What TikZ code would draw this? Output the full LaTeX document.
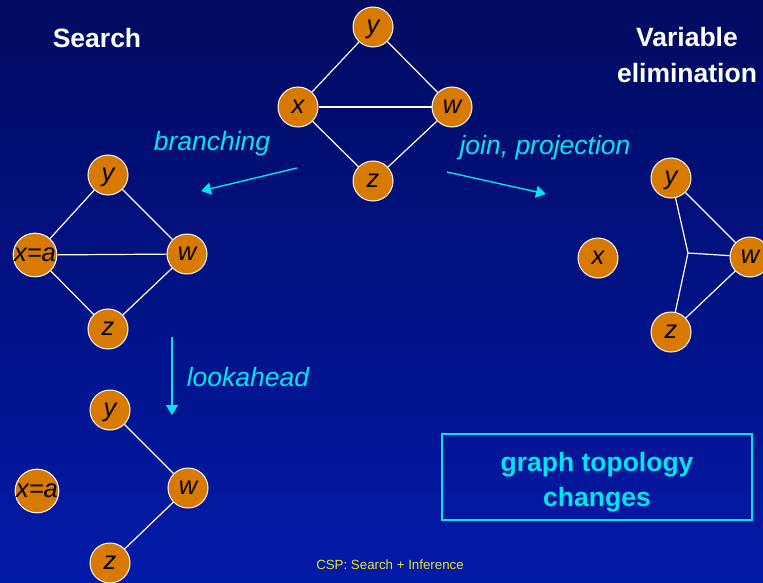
\documentclass[tikz,border=0pt]{standalone}
\usepackage{fontspec}
\setmainfont{Liberation Sans}
\usetikzlibrary{arrows.meta}
\definecolor{bgtop}{RGB}{0,10,96}
\definecolor{bgbot}{RGB}{2,26,168}
\definecolor{varfill}{RGB}{217,122,0}
\definecolor{accent}{RGB}{0,230,240}
\definecolor{footer}{RGB}{230,230,40}
\tikzset{
  var/.style={circle, fill=varfill, draw=white, line width=1pt, minimum size=40pt,
    inner sep=0pt, text height=13pt, text depth=0pt,
    font=\fontsize{25.5}{25.5}\selectfont\itshape, text=black},
  edge/.style={draw=white, line width=1.2pt},
  move/.style={draw=accent, line width=1.4pt, -{Triangle[length=10pt,width=12pt]}},
  steplabel/.style={text=accent, font=\fontsize{26.5}{26.5}\selectfont\itshape},
  heading/.style={text=white, font=\fontsize{26.5}{36}\selectfont\bfseries, align=center}
}
\begin{document}
\begin{tikzpicture}[x=1pt,y=-1pt]
  % background
  \shade[top color=bgtop, bottom color=bgbot] (0,0) rectangle (763,583);
  \useasboundingbox (0,0) rectangle (763,583);

  % headings
  \node[heading] (hsearch) at (97,38) {Search};
  \node[heading] (helim) at (687,55) {Variable\\elimination};

  % original constraint graph
  \node[var] (ty) at (373,27) {y};
  \node[var] (tx) at (298,107) {x};
  \node[var] (tw) at (452,107) {w};
  \node[var] (tz) at (373,181) {z};
  \draw[edge] (tx) -- (ty);
  \draw[edge] (ty) -- (tw);
  \draw[edge] (tx) -- (tw);
  \draw[edge] (tx) -- (tz);
  \draw[edge] (tz) -- (tw);

  % after branching on x
  \node[var] (by) at (108,175) {y};
  \node[var] (bx) at (35,255) {x=a};
  \node[var] (bw) at (187,254) {w};
  \node[var] (bz) at (108,329) {z};
  \draw[edge] (bx) -- (by);
  \draw[edge] (by) -- (bw);
  \draw[edge] (bx) -- (bw);
  \draw[edge] (bx) -- (bz);
  \draw[edge] (bz) -- (bw);

  % after lookahead
  \node[var] (ly) at (110,410) {y};
  \node[var] (lx) at (37,491) {x=a};
  \node[var] (lw) at (188,488) {w};
  \node[var] (lz) at (110,563) {z};
  \draw[edge] (ly) -- (lw);
  \draw[edge] (lz) -- (lw);

  % after eliminating x
  \node[var] (ey) at (671,178) {y};
  \node[var] (ex) at (598,258) {x};
  \node[var] (ew) at (750,257) {w};
  \node[var] (ez) at (671,332) {z};
  \coordinate (hub) at (688,253);
  \draw[edge] (ey) -- (hub) -- (ez);
  \draw[edge] (hub) -- (ew);
  \draw[edge] (ey) -- (ew);
  \draw[edge] (ez) -- (ew);

  % transformation arrows
  \coordinate (brs) at (297,168);
  \coordinate (bre) at (201,191);
  \coordinate (jns) at (447,172);
  \coordinate (jne) at (546,194);
  \coordinate (lks) at (172,337);
  \coordinate (lke) at (172,415);
  \draw[move] (brs) -- (bre);
  \draw[move] (jns) -- (jne);
  \draw[move] (lks) -- (lke);
  \node[steplabel] (lbranch) at (212,144) {branching};
  \node[steplabel] (ljoin) at (545,148) {join, projection};
  \node[steplabel] (llook) at (248,377) {lookahead};

  % note box
  \node[draw=accent, line width=1.2pt, minimum width=310pt, minimum height=86pt] (note) at (597,477) {};
  \node[text=accent, font=\fontsize{26.5}{35}\selectfont\bfseries, align=center]
        (notetext) at (597,482) {graph topology\\changes};

  % footer
  \node[text=footer, font=\fontsize{13.3}{14}\selectfont] (foot) at (390,565) {CSP: Search + Inference};
\end{tikzpicture}
\end{document}
